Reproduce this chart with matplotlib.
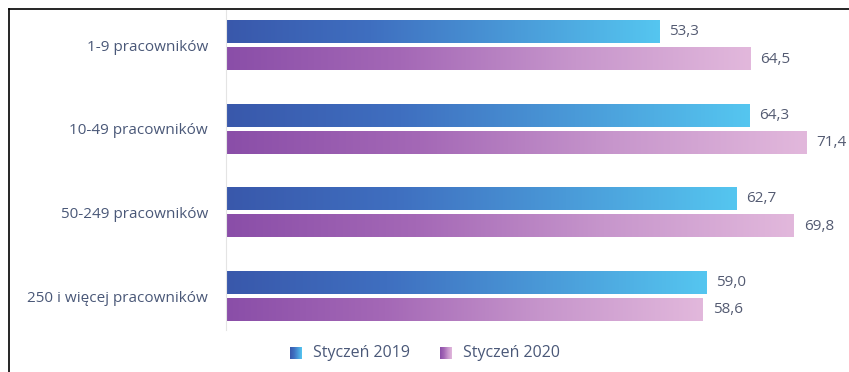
import matplotlib
matplotlib.use("Agg")
import matplotlib.pyplot as plt
import numpy as np
from matplotlib.colors import LinearSegmentedColormap
from matplotlib.lines import Line2D

categories = ["1-9 pracowników", "10-49 pracowników", "50-249 pracowników", "250 i więcej pracowników"]
jan_2019 = [53.3, 64.3, 62.7, 59.0]
jan_2020 = [64.5, 71.4, 69.8, 58.6]
series_names = ["Styczeń 2019", "Styczeń 2020"]

blue_cmap = LinearSegmentedColormap.from_list("b", ["#3958ab", "#3f6fc0", "#4a9ad8", "#55c6f0"])
purple_cmap = LinearSegmentedColormap.from_list("p", ["#8a4ea8", "#a468b6", "#c796cc", "#e2b8dc"])
label_color = "#4a5878"
value_color = "#545b72"

plt.rcParams['font.family'] = ['Open Sans', 'DejaVu Sans']

W, H = 849, 372
fig = plt.figure(figsize=(W / 100, H / 100), dpi=100)
fig.patch.set_facecolor("white")

# axes in pixel terms
ax_left, ax_right, ax_top, ax_bottom = 226, 840, 10, 330
ax = fig.add_axes([ax_left / W, 1 - ax_bottom / H, (ax_right - ax_left) / W, (ax_bottom - ax_top) / H])

px_per_unit = 8.137
bar_h = 0.265
off = 0.162
grad = np.linspace(0, 1, 256).reshape(1, -1)

for i, cat in enumerate(categories):
    for val, cmap, dy in [(jan_2019[i], blue_cmap, -off), (jan_2020[i], purple_cmap, off)]:
        yc = i + dy
        ax.imshow(grad, cmap=cmap, aspect="auto",
                  extent=[0, val, yc + bar_h / 2, yc - bar_h / 2], zorder=2)
        ax.text(val + 1.2, yc, f"{val:.1f}".replace(".", ","), va="center", ha="left",
                fontsize=11, color=value_color)

ax.set_yticks(range(len(categories)))
ax.set_yticklabels(categories, fontsize=11, color=label_color)
ax.tick_params(axis="y", length=0, pad=13)
ax.set_xticks([])
for s in ["top", "right", "bottom"]:
    ax.spines[s].set_visible(False)
ax.spines["left"].set_color("#e4e4e4")
ax.spines["left"].set_linewidth(0.8)
ax.set_xlim(0, (ax_right - ax_left) / px_per_unit)
ax.set_ylim((ax_bottom - 45.5) / 83.5, (ax_top - 45.5) / 83.5)

# legend with gradient squares
for name, cmap, x0 in [(series_names[0], blue_cmap, 290), (series_names[1], purple_cmap, 440)]:
    lax = fig.add_axes([x0 / W, 1 - 359 / H, 12 / W, 12 / H])
    lax.imshow(grad, cmap=cmap, aspect="auto")
    lax.axis("off")
    fig.text((x0 + 23) / W, 1 - 353 / H, name, va="center", ha="left",
             fontsize=11.5, color=label_color)

# frame lines (left and top)
fig.add_artist(Line2D([9 / W, 9 / W], [0, 1 - 9 / H], color="black", lw=1.2))
fig.add_artist(Line2D([9 / W, 1], [1 - 9 / H, 1 - 9 / H], color="black", lw=1.2))

fig.savefig("out.png", dpi=100, facecolor="white")
